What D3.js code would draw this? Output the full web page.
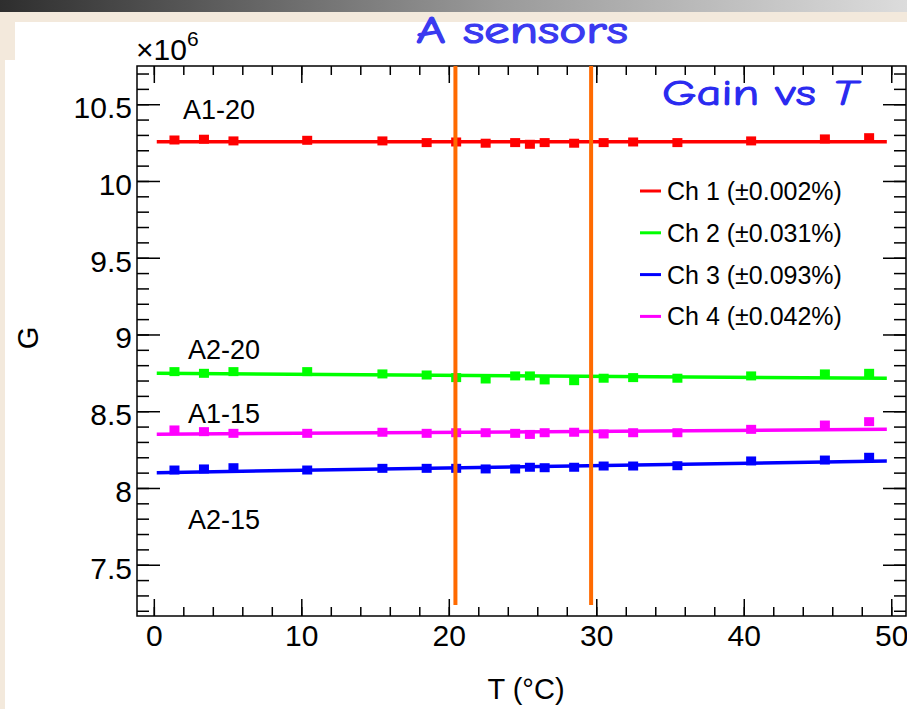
<!DOCTYPE html>
<html>
<head>
<meta charset="utf-8">
<script src="https://cdn.jsdelivr.net/npm/d3@7"></script>
<style>
  body { margin: 0; background: #fff; }
  svg { display: block; }
</style>
</head>
<body>
<div id="chart"></div>
<script>
// temperature points (°C), shared by all four channels
const temps = [1.4, 3.4, 5.4, 10.4, 15.5, 18.5, 20.5, 22.5, 24.5, 25.5, 26.5, 28.5, 30.5, 32.5, 35.5, 40.5, 45.5, 48.5];

// gain (x1e6) per channel
const ch1 = [10.267, 10.272, 10.261, 10.265, 10.261, 10.250, 10.254, 10.246, 10.250, 10.239, 10.250, 10.246, 10.250, 10.254, 10.250, 10.261, 10.274, 10.282];
const ch2 = [8.758, 8.747, 8.758, 8.758, 8.743, 8.736, 8.719, 8.710, 8.730, 8.730, 8.704, 8.699, 8.715, 8.719, 8.715, 8.730, 8.743, 8.747];
const ch3 = [8.117, 8.124, 8.132, 8.117, 8.128, 8.128, 8.128, 8.124, 8.124, 8.135, 8.132, 8.135, 8.143, 8.143, 8.145, 8.176, 8.182, 8.200];
const ch4 = [8.378, 8.367, 8.356, 8.356, 8.363, 8.356, 8.360, 8.360, 8.356, 8.349, 8.360, 8.363, 8.352, 8.360, 8.360, 8.382, 8.410, 8.432];

// linear fit: value at start and end of fit range
const fitRange = [0.2, 49.7];
const fitStart = [10.256, 8.747, 8.100, 8.350];
const fitEnd = [10.256, 8.715, 8.176, 8.382];

const channelNames = ["Ch 1 (\u00B10.002%)", "Ch 2 (\u00B10.031%)", "Ch 3 (\u00B10.093%)", "Ch 4 (\u00B10.042%)"];
const channelColors = ["#ff0000", "#00ff00", "#0000ff", "#ff00ff"];
const sensorLabels = ["A1-20", "A2-20", "A1-15", "A2-15"];

// temperature window marks
const cutTemps = [20.45, 29.65];

const xMajorTicks = [0, 10, 20, 30, 40, 50];
const yMajorTicks = [7.5, 8, 8.5, 9, 9.5, 10, 10.5];

const width = 907, height = 709;
const series = [ch1, ch2, ch3, ch4];

const svg = d3.select("#chart").append("svg")
  .attr("width", width)
  .attr("height", height);

// slide background
const defs = svg.append("defs");
const grad = defs.append("linearGradient").attr("id", "bar").attr("x1", 0).attr("x2", 1);
grad.append("stop").attr("offset", "0%").attr("stop-color", "#2e2e2e");
grad.append("stop").attr("offset", "55%").attr("stop-color", "#9a9a9a");
grad.append("stop").attr("offset", "100%").attr("stop-color", "#dcdcdc");

svg.append("rect").attr("width", width).attr("height", height).style("fill", "#f3e9dc");
svg.append("rect").attr("width", width).attr("height", 12).style("fill", "url(#bar)");
svg.append("rect").attr("x", 15).attr("y", 22).attr("width", width - 15).attr("height", height - 22).style("fill", "#fff");
svg.append("rect").attr("x", 5).attr("y", 60).attr("width", 12).attr("height", height - 60).style("fill", "#fff");

const x = d3.scaleLinear().domain([-1.14, 51.0]).range([137, 906]);
const y = d3.scaleLinear().domain([7.166, 10.749]).range([616, 66]);

const fontAxis = "'Liberation Sans', Arial, Helvetica, sans-serif";
const fontComic = "'Comic Sans MS', 'Comic Neue', 'DejaVu Sans', sans-serif";

function styleAxis(g) {
  g.select(".domain").remove();
  g.selectAll(".tick line").attr("stroke", "#000").attr("stroke-width", 1.5);
  g.selectAll("text").attr("fill", "#000").style("font-family", fontAxis).style("font-size", "30px");
}

const xMinor = d3.range(0, 51, 2);
const yMinor = d3.range(72, 108, 1).map(d => d / 10);

// bottom
svg.append("g").attr("transform", "translate(0,616)")
  .call(d3.axisBottom(x).tickValues(xMinor).tickSize(-9).tickFormat(""))
  .call(styleAxis);
svg.append("g").attr("transform", "translate(0,616)")
  .call(d3.axisBottom(x).tickValues(xMajorTicks).tickSize(-17).tickPadding(9).tickFormat(d3.format("d")))
  .call(styleAxis);
// top
svg.append("g").attr("transform", "translate(0,66)")
  .call(d3.axisTop(x).tickValues(xMinor).tickSize(-9).tickFormat(""))
  .call(styleAxis);
svg.append("g").attr("transform", "translate(0,66)")
  .call(d3.axisTop(x).tickValues(xMajorTicks).tickSize(-17).tickFormat(""))
  .call(styleAxis);
// left
svg.append("g").attr("transform", "translate(137,0)")
  .call(d3.axisLeft(y).tickValues(yMinor).tickSize(-12).tickFormat(""))
  .call(styleAxis);
svg.append("g").attr("transform", "translate(137,0)")
  .call(d3.axisLeft(y).tickValues(yMajorTicks).tickSize(-23).tickPadding(5).tickFormat(d => String(d)))
  .call(styleAxis)
  .selectAll("text").attr("dy", "0.45em");
// right
svg.append("g").attr("transform", "translate(906,0)")
  .call(d3.axisRight(y).tickValues(yMinor).tickSize(-12).tickFormat(""))
  .call(styleAxis);
svg.append("g").attr("transform", "translate(906,0)")
  .call(d3.axisRight(y).tickValues(yMajorTicks).tickSize(-23).tickFormat(""))
  .call(styleAxis);

// frame
svg.append("rect")
  .attr("x", 137).attr("y", 66)
  .attr("width", 906 - 137).attr("height", 616 - 66)
  .style("fill", "none").style("stroke", "#000").style("stroke-width", 1.5);

// fits and points
series.forEach(function (vals, i) {
  svg.append("line")
    .attr("x1", x(fitRange[0])).attr("y1", y(fitStart[i]))
    .attr("x2", x(fitRange[1])).attr("y2", y(fitEnd[i]))
    .style("stroke", channelColors[i])
    .style("stroke-width", 3.5);

  svg.append("g").selectAll("rect")
    .data(vals)
    .enter().append("rect")
    .attr("x", (d, j) => x(temps[j]) - 5)
    .attr("y", d => y(d) - 4.5)
    .attr("width", 10)
    .attr("height", 9)
    .style("fill", channelColors[i]);
});

// orange window lines
svg.append("g").selectAll("line")
  .data(cutTemps)
  .enter().append("line")
  .attr("x1", d => x(d)).attr("x2", d => x(d))
  .attr("y1", 66).attr("y2", 605)
  .style("stroke", "#ff6a00")
  .style("stroke-width", 4);

// sensor labels
const labelPos = [[183, 119], [188, 359], [188, 423], [188, 529]];
svg.append("g").selectAll("text")
  .data(sensorLabels)
  .enter().append("text")
  .attr("x", (d, i) => labelPos[i][0])
  .attr("y", (d, i) => labelPos[i][1])
  .style("font-family", fontAxis)
  .style("font-size", "27px")
  .text(d => d);

// legend
const legend = svg.append("g").attr("transform", "translate(640,191)");
legend.selectAll("line")
  .data(channelNames)
  .enter().append("line")
  .attr("x1", 0).attr("x2", 21)
  .attr("y1", (d, i) => i * 41.8).attr("y2", (d, i) => i * 41.8)
  .style("stroke", (d, i) => channelColors[i])
  .style("stroke-width", 3);
legend.selectAll("text")
  .data(channelNames)
  .enter().append("text")
  .attr("x", 27)
  .attr("y", (d, i) => i * 41.8)
  .attr("dy", "0.36em")
  .style("font-family", fontAxis)
  .style("font-size", "25px")
  .text(d => d);

// axis titles
svg.append("text")
  .attr("x", 526).attr("y", 699)
  .attr("text-anchor", "middle")
  .style("font-family", fontAxis)
  .style("font-size", "29px")
  .text("T (\u00B0C)");

svg.append("text")
  .attr("transform", "translate(38,338) rotate(-90)")
  .attr("text-anchor", "middle")
  .style("font-family", fontAxis)
  .style("font-size", "29px")
  .text("G");

// exponent
const expo = svg.append("text")
  .attr("x", 136).attr("y", 60)
  .style("font-family", fontAxis)
  .style("font-size", "30px");
expo.append("tspan").text("\u00D710");
expo.append("tspan").attr("dy", -14).style("font-size", "21px").text("6");

// slide titles
svg.append("text")
  .attr("x", 416).attr("y", 43)
  .attr("textLength", 212)
  .attr("lengthAdjust", "spacingAndGlyphs")
  .style("font-family", fontComic)
  .style("font-size", "38px")
  .style("fill", "#3a3af0")
  .style("stroke", "#3a3af0")
  .style("stroke-width", 1.2)
  .text("A sensors");

const gain = svg.append("text")
  .attr("x", 662).attr("y", 105)
  .attr("textLength", 195)
  .attr("lengthAdjust", "spacingAndGlyphs")
  .style("font-family", fontComic)
  .style("font-size", "37px")
  .style("fill", "#2a2af0")
  .style("stroke", "#2a2af0")
  .style("stroke-width", 1);
gain.append("tspan").text("Gain vs ");
gain.append("tspan").style("font-style", "italic").text("T");
</script>
</body>
</html>
